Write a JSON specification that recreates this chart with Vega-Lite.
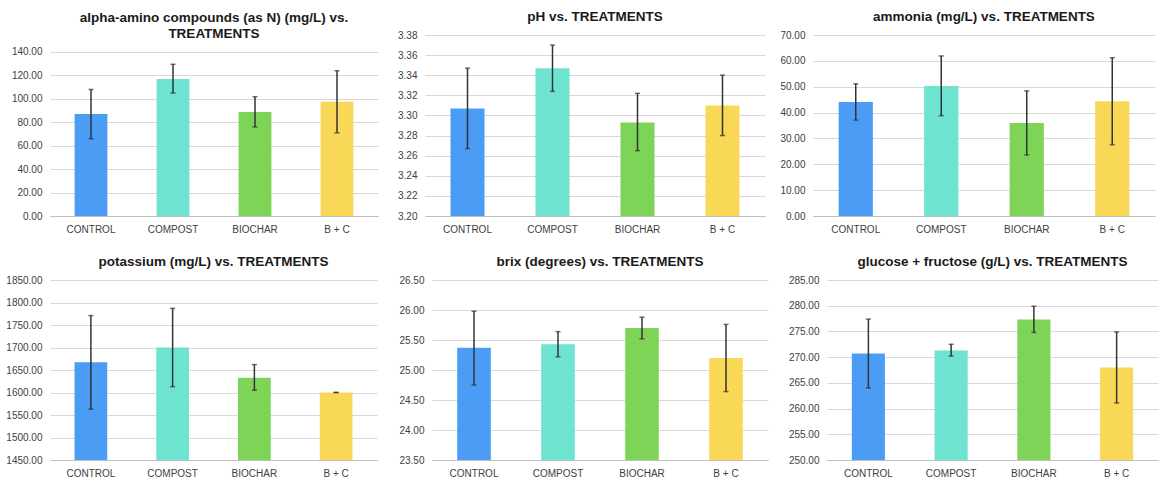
{
  "$schema": "https://vega.github.io/schema/vega-lite/v6.json",
  "padding": {"left": 5, "top": 9, "right": 5, "bottom": 5},
  "background": "white",
  "data": {"values": [
    {"metric": "amino", "treatment": "CONTROL", "mean": 87.0, "lo": 66.0, "hi": 108.0},
    {"metric": "amino", "treatment": "COMPOST", "mean": 117.0, "lo": 105.0, "hi": 129.5},
    {"metric": "amino", "treatment": "BIOCHAR", "mean": 88.8, "lo": 76.0, "hi": 101.8},
    {"metric": "amino", "treatment": "B + C", "mean": 97.5, "lo": 71.0, "hi": 124.0},
    {"metric": "ph", "treatment": "CONTROL", "mean": 3.307, "lo": 3.267, "hi": 3.347},
    {"metric": "ph", "treatment": "COMPOST", "mean": 3.347, "lo": 3.324, "hi": 3.370},
    {"metric": "ph", "treatment": "BIOCHAR", "mean": 3.293, "lo": 3.265, "hi": 3.322},
    {"metric": "ph", "treatment": "B + C", "mean": 3.310, "lo": 3.280, "hi": 3.340},
    {"metric": "ammonia", "treatment": "CONTROL", "mean": 44.1, "lo": 37.1, "hi": 51.1},
    {"metric": "ammonia", "treatment": "COMPOST", "mean": 50.3, "lo": 38.8, "hi": 61.9},
    {"metric": "ammonia", "treatment": "BIOCHAR", "mean": 36.0, "lo": 23.6, "hi": 48.4},
    {"metric": "ammonia", "treatment": "B + C", "mean": 44.4, "lo": 27.6, "hi": 61.2},
    {"metric": "potassium", "treatment": "CONTROL", "mean": 1667, "lo": 1563, "hi": 1771},
    {"metric": "potassium", "treatment": "COMPOST", "mean": 1700, "lo": 1613, "hi": 1787},
    {"metric": "potassium", "treatment": "BIOCHAR", "mean": 1633, "lo": 1605, "hi": 1662},
    {"metric": "potassium", "treatment": "B + C", "mean": 1600, "lo": 1599.5, "hi": 1600.5},
    {"metric": "brix", "treatment": "CONTROL", "mean": 25.37, "lo": 24.75, "hi": 25.98},
    {"metric": "brix", "treatment": "COMPOST", "mean": 25.43, "lo": 25.22, "hi": 25.64},
    {"metric": "brix", "treatment": "BIOCHAR", "mean": 25.70, "lo": 25.52, "hi": 25.88},
    {"metric": "brix", "treatment": "B + C", "mean": 25.20, "lo": 24.64, "hi": 25.76},
    {"metric": "glucose", "treatment": "CONTROL", "mean": 270.7, "lo": 264.0, "hi": 277.4},
    {"metric": "glucose", "treatment": "COMPOST", "mean": 271.3, "lo": 270.2, "hi": 272.5},
    {"metric": "glucose", "treatment": "BIOCHAR", "mean": 277.3, "lo": 274.8, "hi": 279.9},
    {"metric": "glucose", "treatment": "B + C", "mean": 268.0, "lo": 261.1, "hi": 274.9}
  ]},
  "config": {
    "font": "Liberation Sans",
    "view": {"stroke": null},
    "concat": {"spacing": 10},
    "title": {"fontSize": 13.5, "fontWeight": "bold", "color": "#1a1a1a", "offset": 7, "lineHeight": 16},
    "axis": {"labelFontSize": 10, "labelColor": "#404040", "ticks": false, "gridColor": "#d9d9d9", "gridWidth": 1},
    "axisX": {"domainColor": "#bfbfbf", "domainWidth": 1, "labelAngle": 0, "labelPadding": 8, "grid": false},
    "axisY": {"domain": false, "labelPadding": 8, "grid": true},
    "bar": {"strokeWidth": 0},
    "legend": {"disable": true}
  },
  "spacing": 20,
  "vconcat": [
    {
      "spacing": 10,
      "hconcat": [
        {
          "title": {"text": ["alpha-amino compounds (as N) (mg/L) vs.", "TREATMENTS"], "dy": 12},
          "width": 328, "height": 181,
          "transform": [{"filter": "datum.metric === 'amino'"}],
          "encoding": {"x": {"field": "treatment", "type": "nominal", "title": null, "sort": ["CONTROL", "COMPOST", "BIOCHAR", "B + C"], "scale": {"paddingInner": 0.6, "paddingOuter": 0.3}}},
          "layer": [
            {"mark": "bar", "encoding": {
              "y": {"field": "mean", "type": "quantitative", "title": null, "scale": {"domain": [0, 154.5], "nice": false, "zero": false}, "axis": {"format": ".2f", "values": [0, 20, 40, 60, 80, 100, 120, 140], "minExtent": 45, "maxExtent": 45}},
              "y2": {"datum": 0},
              "color": {"field": "treatment", "type": "nominal", "scale": {"domain": ["CONTROL", "COMPOST", "BIOCHAR", "B + C"], "range": ["#4a9cf5", "#6de3d0", "#7ed456", "#f9d857"]}}}},
            {"mark": {"type": "errorbar", "ticks": {"size": 5, "color": "#333333"}, "color": "#333333", "thickness": 1.5}, "encoding": {
              "y": {"field": "lo", "type": "quantitative", "title": null, "scale": {"domain": [0, 154.5], "nice": false, "zero": false}, "axis": {"format": ".2f", "values": [0, 20, 40, 60, 80, 100, 120, 140], "minExtent": 45, "maxExtent": 45}},
              "y2": {"field": "hi"}}}
          ]
        },
        {
          "title": {"text": "pH vs. TREATMENTS"},
          "width": 340, "height": 181,
          "transform": [{"filter": "datum.metric === 'ph'"}],
          "encoding": {"x": {"field": "treatment", "type": "nominal", "title": null, "sort": ["CONTROL", "COMPOST", "BIOCHAR", "B + C"], "scale": {"paddingInner": 0.6, "paddingOuter": 0.3}}},
          "layer": [
            {"mark": "bar", "encoding": {
              "y": {"field": "mean", "type": "quantitative", "title": null, "scale": {"domain": [3.2, 3.38], "nice": false, "zero": false}, "axis": {"format": ".2f", "values": [3.2, 3.22, 3.24, 3.26, 3.28, 3.3, 3.32, 3.34, 3.36, 3.38], "minExtent": 37, "maxExtent": 37}},
              "y2": {"datum": 3.2},
              "color": {"field": "treatment", "type": "nominal", "scale": {"domain": ["CONTROL", "COMPOST", "BIOCHAR", "B + C"], "range": ["#4a9cf5", "#6de3d0", "#7ed456", "#f9d857"]}}}},
            {"mark": {"type": "errorbar", "ticks": {"size": 5, "color": "#333333"}, "color": "#333333", "thickness": 1.5}, "encoding": {
              "y": {"field": "lo", "type": "quantitative", "title": null, "scale": {"domain": [3.2, 3.38], "nice": false, "zero": false}, "axis": {"format": ".2f", "values": [3.2, 3.22, 3.24, 3.26, 3.28, 3.3, 3.32, 3.34, 3.36, 3.38], "minExtent": 37, "maxExtent": 37}},
              "y2": {"field": "hi"}}}
          ]
        },
        {
          "title": {"text": "ammonia (mg/L) vs. TREATMENTS"},
          "width": 342, "height": 181,
          "transform": [{"filter": "datum.metric === 'ammonia'"}],
          "encoding": {"x": {"field": "treatment", "type": "nominal", "title": null, "sort": ["CONTROL", "COMPOST", "BIOCHAR", "B + C"], "scale": {"paddingInner": 0.6, "paddingOuter": 0.3}}},
          "layer": [
            {"mark": "bar", "encoding": {
              "y": {"field": "mean", "type": "quantitative", "title": null, "scale": {"domain": [0, 70], "nice": false, "zero": false}, "axis": {"format": ".2f", "values": [0, 10, 20, 30, 40, 50, 60, 70], "minExtent": 38, "maxExtent": 38}},
              "y2": {"datum": 0},
              "color": {"field": "treatment", "type": "nominal", "scale": {"domain": ["CONTROL", "COMPOST", "BIOCHAR", "B + C"], "range": ["#4a9cf5", "#6de3d0", "#7ed456", "#f9d857"]}}}},
            {"mark": {"type": "errorbar", "ticks": {"size": 5, "color": "#333333"}, "color": "#333333", "thickness": 1.5}, "encoding": {
              "y": {"field": "lo", "type": "quantitative", "title": null, "scale": {"domain": [0, 70], "nice": false, "zero": false}, "axis": {"format": ".2f", "values": [0, 10, 20, 30, 40, 50, 60, 70], "minExtent": 38, "maxExtent": 38}},
              "y2": {"field": "hi"}}}
          ]
        }
      ]
    },
    {
      "spacing": 10,
      "hconcat": [
        {
          "title": {"text": "potassium (mg/L) vs. TREATMENTS"},
          "width": 327, "height": 180,
          "transform": [{"filter": "datum.metric === 'potassium'"}],
          "encoding": {"x": {"field": "treatment", "type": "nominal", "title": null, "sort": ["CONTROL", "COMPOST", "BIOCHAR", "B + C"], "scale": {"paddingInner": 0.6, "paddingOuter": 0.3}}},
          "layer": [
            {"mark": "bar", "encoding": {
              "y": {"field": "mean", "type": "quantitative", "title": null, "scale": {"domain": [1450, 1850], "nice": false, "zero": false}, "axis": {"format": ".2f", "values": [1450, 1500, 1550, 1600, 1650, 1700, 1750, 1800, 1850], "minExtent": 45, "maxExtent": 45}},
              "y2": {"datum": 1450},
              "color": {"field": "treatment", "type": "nominal", "scale": {"domain": ["CONTROL", "COMPOST", "BIOCHAR", "B + C"], "range": ["#4a9cf5", "#6de3d0", "#7ed456", "#f9d857"]}}}},
            {"mark": {"type": "errorbar", "ticks": {"size": 5, "color": "#333333"}, "color": "#333333", "thickness": 1.5}, "encoding": {
              "y": {"field": "lo", "type": "quantitative", "title": null, "scale": {"domain": [1450, 1850], "nice": false, "zero": false}, "axis": {"format": ".2f", "values": [1450, 1500, 1550, 1600, 1650, 1700, 1750, 1800, 1850], "minExtent": 45, "maxExtent": 45}},
              "y2": {"field": "hi"}}}
          ]
        },
        {
          "title": {"text": "brix (degrees) vs. TREATMENTS"},
          "width": 336, "height": 180,
          "transform": [{"filter": "datum.metric === 'brix'"}],
          "encoding": {"x": {"field": "treatment", "type": "nominal", "title": null, "sort": ["CONTROL", "COMPOST", "BIOCHAR", "B + C"], "scale": {"paddingInner": 0.6, "paddingOuter": 0.3}}},
          "layer": [
            {"mark": "bar", "encoding": {
              "y": {"field": "mean", "type": "quantitative", "title": null, "scale": {"domain": [23.5, 26.5], "nice": false, "zero": false}, "axis": {"format": ".2f", "values": [23.5, 24, 24.5, 25, 25.5, 26, 26.5], "minExtent": 45, "maxExtent": 45}},
              "y2": {"datum": 23.5},
              "color": {"field": "treatment", "type": "nominal", "scale": {"domain": ["CONTROL", "COMPOST", "BIOCHAR", "B + C"], "range": ["#4a9cf5", "#6de3d0", "#7ed456", "#f9d857"]}}}},
            {"mark": {"type": "errorbar", "ticks": {"size": 5, "color": "#333333"}, "color": "#333333", "thickness": 1.5}, "encoding": {
              "y": {"field": "lo", "type": "quantitative", "title": null, "scale": {"domain": [23.5, 26.5], "nice": false, "zero": false}, "axis": {"format": ".2f", "values": [23.5, 24, 24.5, 25, 25.5, 26, 26.5], "minExtent": 45, "maxExtent": 45}},
              "y2": {"field": "hi"}}}
          ]
        },
        {
          "title": {"text": "glucose + fructose (g/L) vs. TREATMENTS"},
          "width": 331, "height": 180,
          "transform": [{"filter": "datum.metric === 'glucose'"}],
          "encoding": {"x": {"field": "treatment", "type": "nominal", "title": null, "sort": ["CONTROL", "COMPOST", "BIOCHAR", "B + C"], "scale": {"paddingInner": 0.6, "paddingOuter": 0.3}}},
          "layer": [
            {"mark": "bar", "encoding": {
              "y": {"field": "mean", "type": "quantitative", "title": null, "scale": {"domain": [250, 285], "nice": false, "zero": false}, "axis": {"format": ".2f", "values": [250, 255, 260, 265, 270, 275, 280, 285], "minExtent": 49, "maxExtent": 49}},
              "y2": {"datum": 250},
              "color": {"field": "treatment", "type": "nominal", "scale": {"domain": ["CONTROL", "COMPOST", "BIOCHAR", "B + C"], "range": ["#4a9cf5", "#6de3d0", "#7ed456", "#f9d857"]}}}},
            {"mark": {"type": "errorbar", "ticks": {"size": 5, "color": "#333333"}, "color": "#333333", "thickness": 1.5}, "encoding": {
              "y": {"field": "lo", "type": "quantitative", "title": null, "scale": {"domain": [250, 285], "nice": false, "zero": false}, "axis": {"format": ".2f", "values": [250, 255, 260, 265, 270, 275, 280, 285], "minExtent": 49, "maxExtent": 49}},
              "y2": {"field": "hi"}}}
          ]
        }
      ]
    }
  ],
  "resolve": {"scale": {"color": "shared"}}
}
